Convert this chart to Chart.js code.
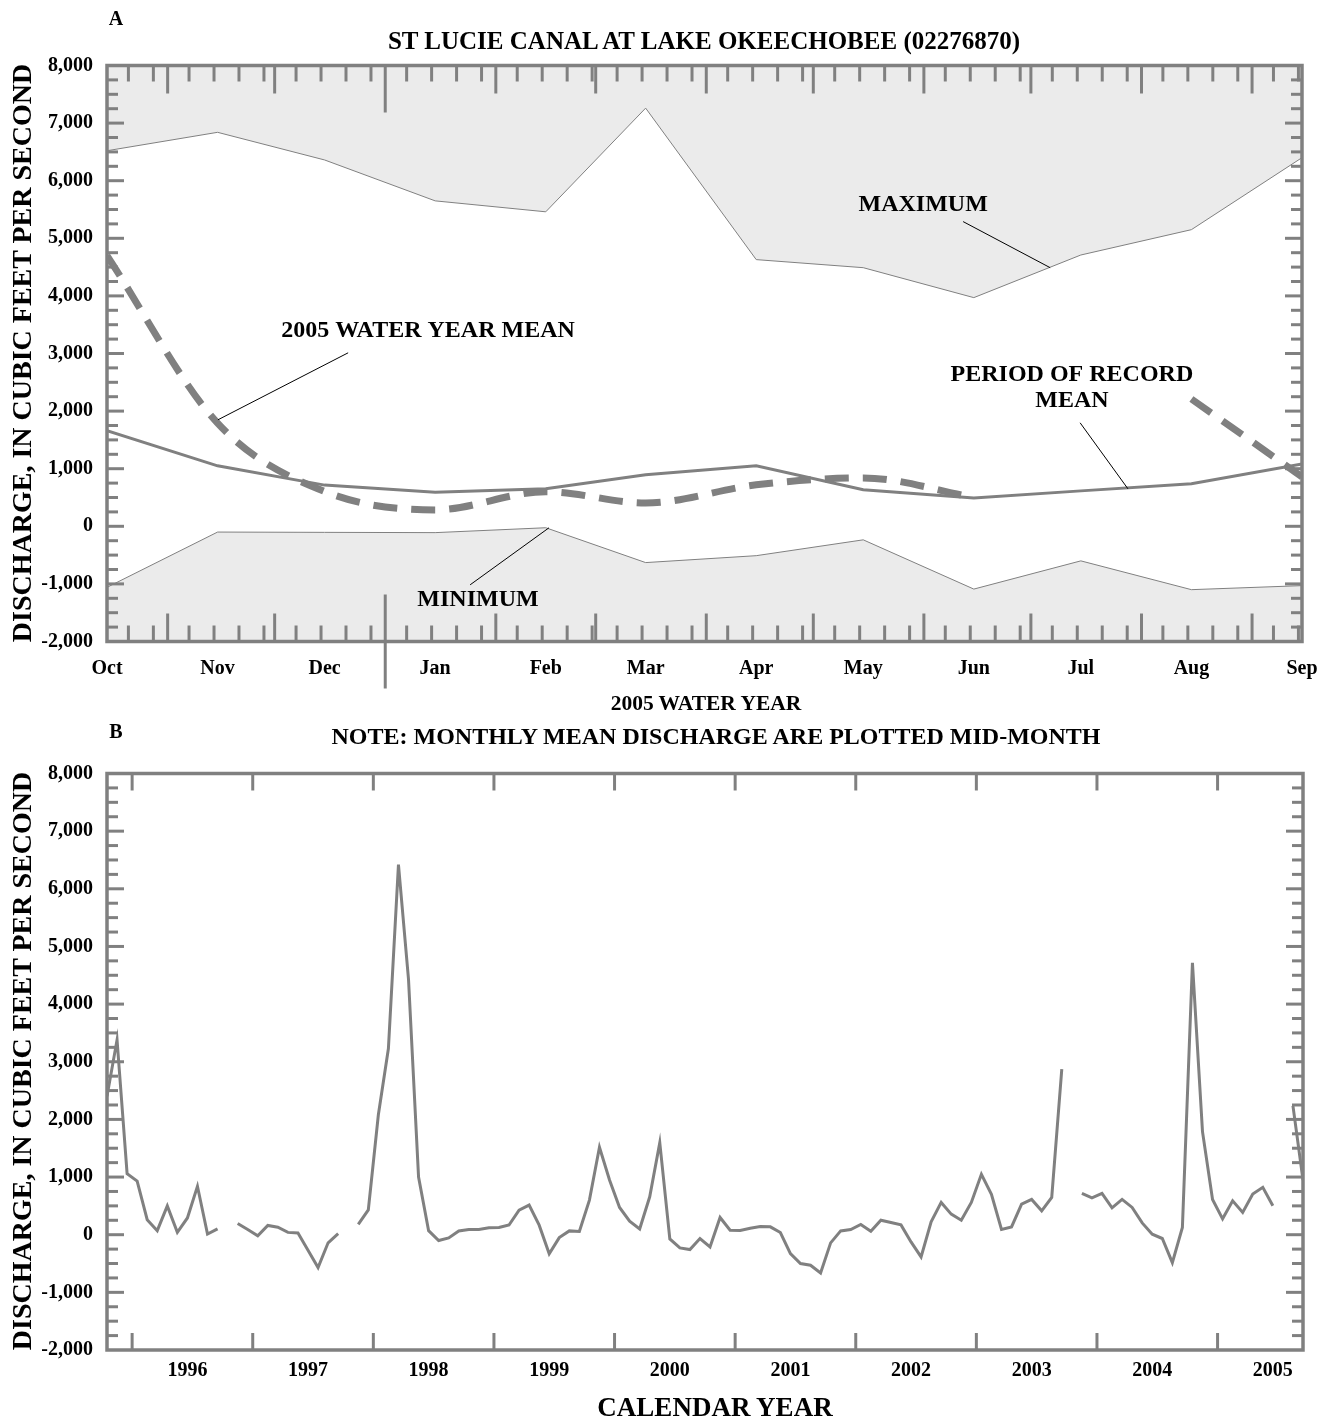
<!DOCTYPE html>
<html><head><meta charset="utf-8">
<script src="https://cdn.jsdelivr.net/npm/chart.js@4.4.1/dist/chart.umd.min.js"></script>
<style>
body{margin:0;background:#fff;width:1328px;height:1418px;position:relative;overflow:hidden;font-family:"Liberation Serif","Times New Roman",serif;font-weight:bold;color:#000}
.t{position:absolute;transform:translate(-50%,-50%);white-space:nowrap;line-height:1}
.v{position:absolute;transform:translate(-50%,-50%) rotate(-90deg);white-space:nowrap;line-height:1}
#wa{position:absolute;left:0;top:0;width:1328px;height:715px}
#wb{position:absolute;left:0;top:715px;width:1328px;height:703px}
</style></head><body>
<div id="wa"><canvas id="ca" width="1328" height="715"></canvas></div>
<div id="wb"><canvas id="cb" width="1328" height="703"></canvas></div>
<div class="t" style="left:116px;top:18px;font-size:20px">A</div>
<div class="t" style="left:704px;top:40px;font-size:25px">ST LUCIE CANAL AT LAKE OKEECHOBEE (02276870)</div>
<div class="v" style="left:22px;top:353px;font-size:28px">DISCHARGE, IN CUBIC FEET PER SECOND</div>
<div class="t" style="left:706px;top:704px;font-size:21.5px">2005 WATER YEAR</div>
<div class="t" style="left:116px;top:731px;font-size:20px">B</div>
<div class="t" style="left:716px;top:736px;font-size:24px">NOTE: MONTHLY MEAN DISCHARGE ARE PLOTTED MID-MONTH</div>
<div class="v" style="left:22px;top:1061px;font-size:28px">DISCHARGE, IN CUBIC FEET PER SECOND</div>
<div class="t" style="left:715px;top:1407px;font-size:27px">CALENDAR YEAR</div>
<script>
// ---------- Panel A data (2005 water year, monthly, plotted mid-month) ----------
const monthDates = ['2004-10-15','2004-11-15','2004-12-15','2005-01-15','2005-02-15','2005-03-15','2005-04-15','2005-05-15','2005-06-15','2005-07-15','2005-08-15','2005-09-15'];
const monthLabels = ['Oct','Nov','Dec','Jan','Feb','Mar','Apr','May','Jun','Jul','Aug','Sep'];
const maxVals  = [6520, 6840, 6360, 5650, 5460, 7260, 4630, 4490, 3970, 4710, 5150, 6400];
const minVals  = [-1060, -100, -105, -110, -25, -630, -510, -235, -1090, -600, -1100, -1030];
const porMean  = [1660, 1050, 715, 590, 650, 895, 1050, 635, 490, 615, 740, 1080];
const wy2005   = [4700, 1790, 605, 285, 600, 405, 720, 840, 500, null, 2210, 860];

// ---------- Panel B data (monthly mean, Oct 1995 - Sep 2005) ----------
const seriesStart = '1995-10';
const monthlyMean = [
 2400, 3380, 1060, 930, 260, 70, 500, 40, 290, 840, 10, 100,      // WY1996
 null, 195, 90, -20, 160, 130, 40, 30, -270, -570, -140, 20,       // WY1997
 null, 180, 430, 2080, 3230, 6420, 4430, 1000, 70, -100, -55, 65,  // WY1998
 90, 90, 120, 125, 168, 426, 513, 165, -330, -50, 66, 55,          // WY1999
 600, 1516, 948, 473, 235, 101, 658, 1597, -73, -230, -258, -67,   // WY2000
 -212, 299, 78, 72, 113, 142, 136, 38, -328, -501, -530, -664,     // WY2001
 -142, 66, 90, 177, 61, 252, 212, 170, -125, -386, 223, 560,       // WY2002
 357, 252, 560, 1047, 699, 90, 136, 530, 612, 414, 647, 2873,      // WY2003
 null, 717, 640, 717, 466, 612, 473, 205, 9, -66, -484, 125,       // WY2004
 4716, 1788, 612, 275, 588, 386, 704, 821, 501, null, 2235, 948    // WY2005
];
const yearLabels = ['1996','1997','1998','1999','2000','2001','2002','2003','2004','2005'];
const yTickMin = -2000, yTickMax = 8000;

// ---------- helpers ----------
const DAY = 86400000;
const t0 = Date.parse(monthDates[0]);
const dayOf = d => Math.round((Date.parse(d) - t0) / DAY);
const monthDays = monthDates.map(dayOf);
const lastDay = monthDays[monthDays.length - 1];
const fmt = v => (v < 0 ? '-' : '') + Math.abs(v).toLocaleString('en-US');
const GRAY = '#808080', FILL = '#ebebeb', FONT = '"Liberation Serif", "Times New Roman", serif';
const pts = (xs, ys) => ys.map((v, i) => ({x: xs[i], y: v}));
function seg(ctx, x1, y1, x2, y2){ ctx.beginPath(); ctx.moveTo(x1, y1); ctx.lineTo(x2, y2); ctx.stroke(); }
function yTicks(ctx, y, left, right){
  for (let v = yTickMin + 250; v < yTickMax; v += 250){
    const py = y.getPixelForValue(v), len = v % 1000 === 0 ? 17 : 11;
    seg(ctx, left, py, left + len, py); seg(ctx, right, py, right - len, py);
  }
}
const noPad = s => { s.paddingLeft = 0; s.paddingRight = 0; };

// ---------- Panel A ----------
const annA = [
  {text:['MAXIMUM'], at:[228.8, 5580], from:[240, 5290], to:[264.4, 4490]},
  {text:['2005 WATER YEAR MEAN'], at:[90, 3394], from:[67.6, 3012], to:[31.1, 1849]},
  {text:['PERIOD OF RECORD','MEAN'], at:[270.5, 2630], step:-450, from:[272.8, 1797], to:[286.2, 651]},
  {text:['MINIMUM'], at:[104, -1276], from:[101.8, -1016], to:[123.9, -26]}
];
const frameA = {
  id:'frameA',
  afterDatasetsDraw(chart){
    const {ctx, chartArea:{left, right, top, bottom}, scales:{x, y}} = chart;
    ctx.save();
    ctx.strokeStyle = GRAY; ctx.lineWidth = 3; ctx.lineCap = 'butt';
    yTicks(ctx, y, left, right);
    for (let d = 0; d <= lastDay; d++){
      const dt = new Date(t0 + d * DAY), dd = dt.getUTCDate();
      let len = 0, below = 0;
      if (dd === 1){ if (dt.getUTCMonth() === 0){ len = 47; below = 47; } else len = 28; }
      else if (dd === 7 || dd === 14 || dd === 21 || dd === 28) len = 16;
      if (!len) continue;
      const px = x.getPixelForValue(d);
      seg(ctx, px, bottom + below, px, bottom - len);
      seg(ctx, px, top, px, top + len);
    }
    ctx.lineWidth = 3.5;
    ctx.strokeRect(left, top, right - left, bottom - top);
    // annotations
    ctx.strokeStyle = '#000'; ctx.lineWidth = 1; ctx.fillStyle = '#000';
    ctx.font = 'bold 24px ' + FONT; ctx.textAlign = 'center'; ctx.textBaseline = 'middle';
    annA.forEach(a => {
      a.text.forEach((s, i) => ctx.fillText(s, x.getPixelForValue(a.at[0]), y.getPixelForValue(a.at[1] + i * (a.step || 0))));
      seg(ctx, x.getPixelForValue(a.from[0]), y.getPixelForValue(a.from[1]), x.getPixelForValue(a.to[0]), y.getPixelForValue(a.to[1]));
    });
    ctx.restore();
  }
};

new Chart(document.getElementById('ca'), {
  type:'line',
  data:{datasets:[
    {data:pts(monthDays, maxVals), borderColor:GRAY, borderWidth:1, fill:'end', backgroundColor:FILL, pointRadius:0, tension:0},
    {data:pts(monthDays, minVals), borderColor:GRAY, borderWidth:1, fill:'start', backgroundColor:FILL, pointRadius:0, tension:0},
    {data:pts(monthDays, porMean), borderColor:GRAY, borderWidth:3, fill:false, pointRadius:0, tension:0},
    {data:pts(monthDays, wy2005), borderColor:GRAY, borderWidth:7, borderDash:[24,14], borderCapStyle:'butt', fill:false, pointRadius:0, cubicInterpolationMode:'monotone', spanGaps:false}
  ]},
  options:{
    responsive:false, animation:false, events:[],
    layout:{padding:{top:65.5, right:26, left:0, bottom:0}},
    plugins:{legend:{display:false}, tooltip:{enabled:false}, title:{display:false}},
    scales:{
      x:{type:'linear', min:0, max:lastDay, grid:{display:false, drawTicks:false}, border:{display:false},
         afterBuildTicks:s => { s.ticks = monthDays.map(v => ({value:v})); },
         afterFit:s => { s.height = 73.5; noPad(s); },
         ticks:{autoSkip:false, maxRotation:0, padding:15, color:'#000', font:{family:FONT, size:20, weight:'bold'},
                callback:(v, i) => monthLabels[i]}},
      y:{min:yTickMin, max:yTickMax, grid:{display:false, drawTicks:false}, border:{display:false},
         afterFit:s => { s.width = 107; },
         ticks:{stepSize:1000, padding:14, color:'#000', font:{family:FONT, size:20, weight:'bold'}, callback:v => fmt(v)}}
    }
  },
  plugins:[frameA]
});

// ---------- Panel B ----------
const [sy, sm] = seriesStart.split('-').map(Number);
const idx = monthlyMean.map((v, i) => i);
const yearBounds = idx.filter(i => (sm - 1 + i) % 12 === 0).map(i => i - 0.5);
const frameB = {
  id:'frameB',
  afterDatasetsDraw(chart){
    const {ctx, chartArea:{left, right, top, bottom}, scales:{x, y}} = chart;
    ctx.save();
    ctx.strokeStyle = GRAY; ctx.lineWidth = 3;
    yTicks(ctx, y, left, right);
    yearBounds.forEach(b => { const px = x.getPixelForValue(b); seg(ctx, px, bottom, px, bottom - 17); seg(ctx, px, top, px, top + 17); });
    ctx.lineWidth = 3.5;
    ctx.strokeRect(left, top, right - left, bottom - top);
    ctx.restore();
  }
};
new Chart(document.getElementById('cb'), {
  type:'line',
  data:{datasets:[
    {data:pts(idx, monthlyMean), borderColor:GRAY, borderWidth:3, fill:false, pointRadius:0, tension:0, spanGaps:false}
  ]},
  options:{
    responsive:false, animation:false, events:[],
    layout:{padding:{top:58.5, right:25, left:0, bottom:0}},
    plugins:{legend:{display:false}, tooltip:{enabled:false}},
    scales:{
      x:{type:'linear', min:0, max:idx.length - 1, grid:{display:false, drawTicks:false}, border:{display:false},
         afterBuildTicks:s => { s.ticks = yearBounds.map(b => ({value:b + 5.5})); },
         afterFit:s => { s.height = 68; noPad(s); },
         ticks:{autoSkip:false, maxRotation:0, padding:9, color:'#000', font:{family:FONT, size:20, weight:'bold'},
                callback:(v, i) => yearLabels[i]}},
      y:{min:yTickMin, max:yTickMax, grid:{display:false, drawTicks:false}, border:{display:false},
         afterFit:s => { s.width = 107; },
         ticks:{stepSize:1000, padding:14, color:'#000', font:{family:FONT, size:20, weight:'bold'}, callback:v => fmt(v)}}
    }
  },
  plugins:[frameB]
});
</script>
</body></html>
